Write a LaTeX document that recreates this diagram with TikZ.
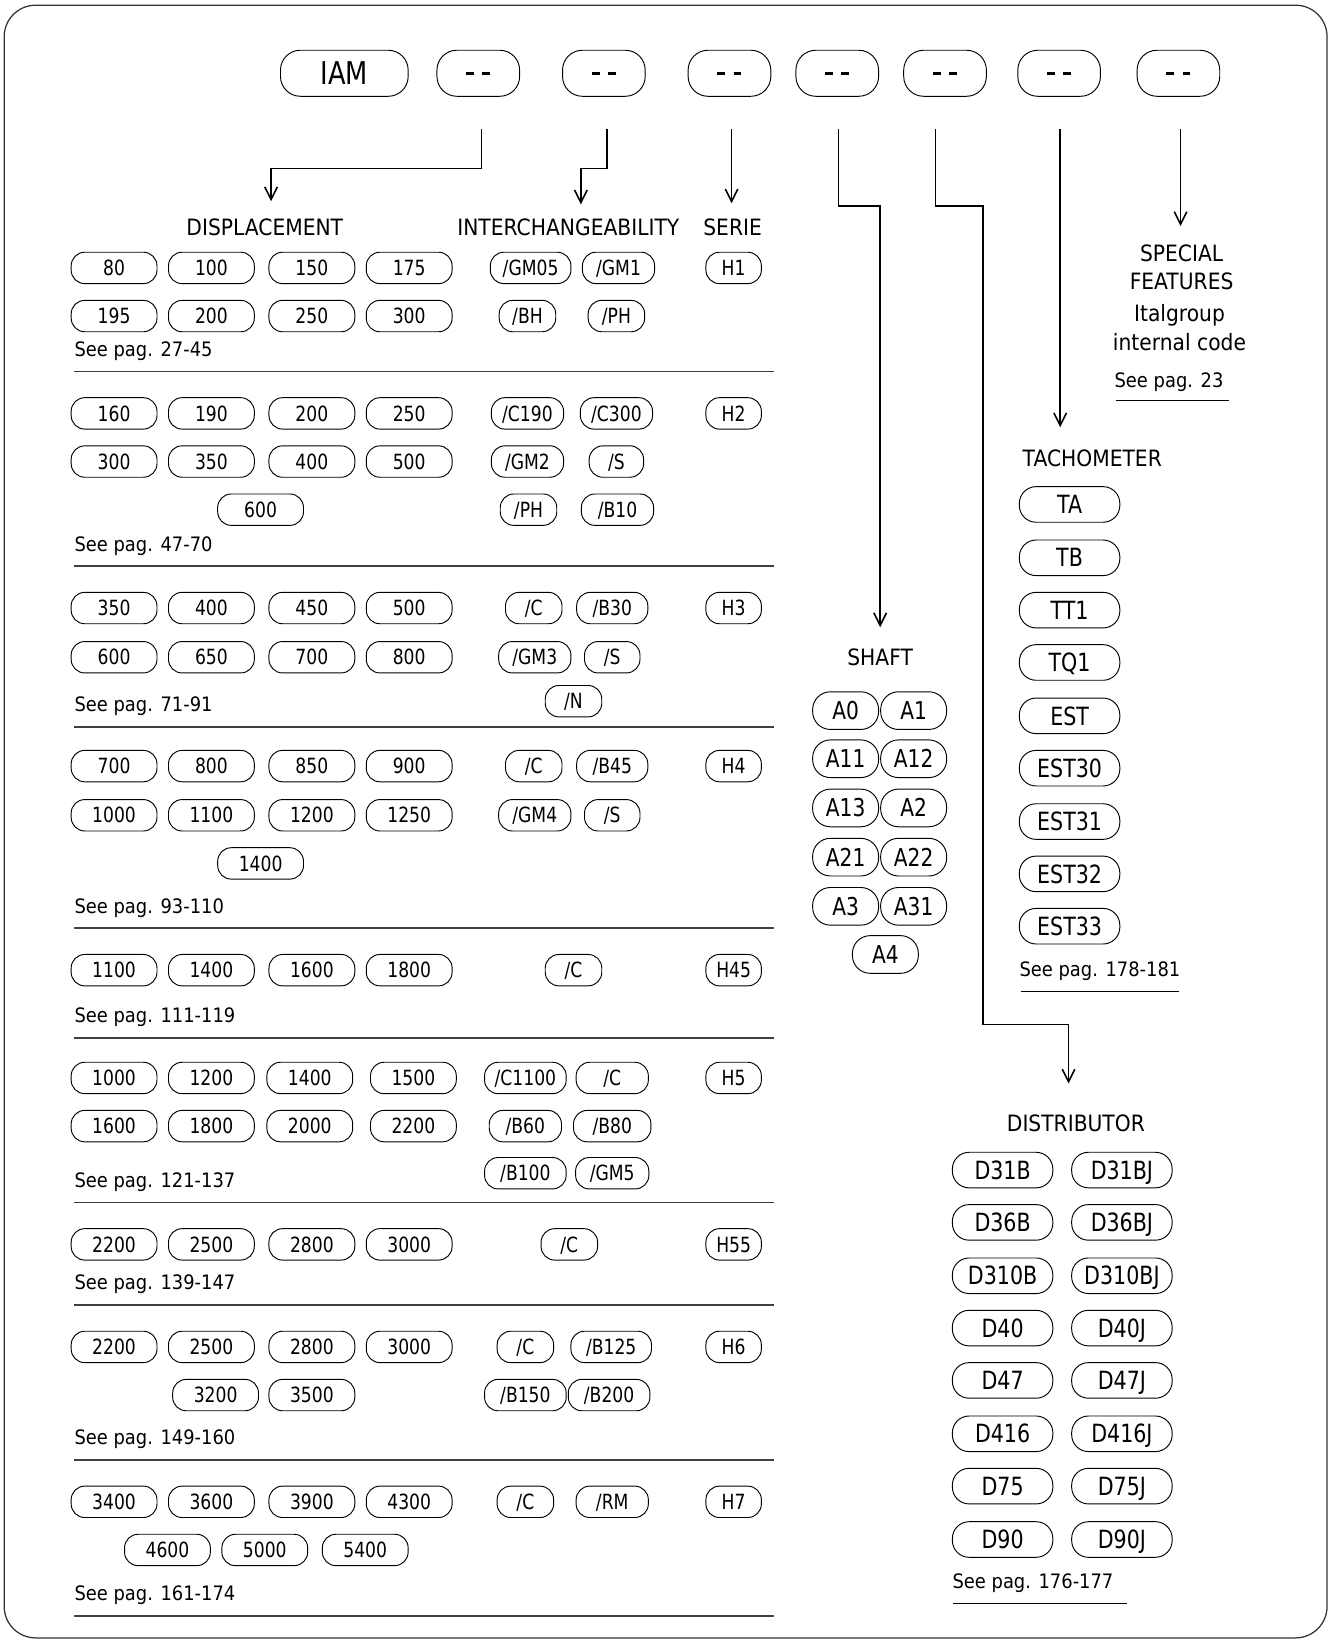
\documentclass[tikz,border=0pt]{standalone}
\usepackage{fontspec}
\setmainfont{DejaVu Sans}[FakeStretch=0.9]
\newfontfamily\narrowfont{DejaVu Sans}[FakeStretch=0.82]
\usetikzlibrary{arrows.meta,calc}
\newcommand\dispRow[6]{%
 \node[dpill] (#2a) at (109,#1) {#3};
 \node[dpill] (#2b) at (202,#1) {#4};
 \node[dpill] (#2c) at (298,#1) {#5};
 \node[dpill] (#2d) at (391,#1) {#6};}
\newcommand\pil[5]{\node[pill,minimum width=#4] (#1) at (#2,#3) {#5};}
\newcommand\rpil[4]{\node[rpill] (#1) at (#2,#3) {#4};}
\newcommand\spil[4]{\node[spill] (#1) at (#2,#3) {#4};}
\newcommand\dashes{\rule{7.5pt}{2.6pt}\hspace{8pt}\rule{7.5pt}{2.6pt}}
\begin{document}
\begin{tikzpicture}[x=1pt,y=-1pt,
 pill/.style={draw, line width=0.9pt, rounded corners=13, minimum height=30, inner sep=0, text height=14.6pt, text depth=0pt, font=\narrowfont\fontsize{20}{20}\selectfont},
 dpill/.style={pill, minimum width=82},
 toppill/.style={draw, line width=0.9pt, rounded corners=19, minimum height=44, minimum width=79, inner sep=0, font=\narrowfont\fontsize{22}{22}\selectfont},
 rpill/.style={draw, line width=0.9pt, rounded corners=16, minimum height=34, minimum width=96, inner sep=0, text height=17.5pt, text depth=0pt, font=\narrowfont\fontsize{24}{24}\selectfont},
 spill/.style={draw, line width=0.9pt, rounded corners=17, minimum height=36, minimum width=63, inner sep=0, text height=17.1pt, text depth=0pt, font=\narrowfont\fontsize{23.5}{23.5}\selectfont},
 head/.style={inner sep=2pt, font=\fontsize{21.5}{27}\selectfont, align=center},
 see/.style={anchor=west, inner sep=0, font=\fontsize{19}{19}\selectfont},
 conn/.style={line width=1.5pt, -{Straight Barb[length=12pt, width=12pt]}},
 sepline/.style={line width=1.8pt, black!75},
 uline/.style={line width=1pt, black},
]
\useasboundingbox (0,0) rectangle (1271,1568);
\draw[line width=1.2pt, black!80, rounded corners=30] (4,5) rectangle (1268,1565);

% top row
\node[toppill, minimum width=122, text height=21.9pt, text depth=0pt, font=\narrowfont\fontsize{30}{30}\selectfont] (iam) at (329,70) {IAM};
\node[toppill] (t2) at (457,70) {\dashes};
\node[toppill] (t3) at (577,70) {\dashes};
\node[toppill] (t4) at (697,70) {\dashes};
\node[toppill] (t5) at (800,70) {\dashes};
\node[toppill] (t6) at (903,70) {\dashes};
\node[toppill] (t7) at (1012,70) {\dashes};
\node[toppill] (t8) at (1126,70) {\dashes};

% headings
\node[head] (disp) at (253,217) {DISPLACEMENT};
\node[head] (inter) at (543,217) {INTERCHANGEABILITY};
\node[head] (serie) at (700,217) {SERIE};
\node[head] (shaft) at (841,628) {SHAFT};
\node[head, anchor=west] (tach) at (975,438) {TACHOMETER};
\node[head] (dist) at (1028,1073) {DISTRIBUTOR};
\node[head, anchor=north] (spec) at (1129,231.5) {SPECIAL\\FEATURES};
\node[head, anchor=north] (ital) at (1127,289) {Italgroup\\internal code};
\node[see, anchor=center] (see23) at (1117,365) {See pag. 23};
\draw[uline] (1066,383) -- (1174,383);

% connectors
\coordinate (c2) at (460,123);
\coordinate (c3) at (580,123);
\coordinate (c4) at (699,123);
\coordinate (c5) at (801,123);
\coordinate (c6) at (894,123);
\coordinate (c7) at (1013,123);
\coordinate (c8) at (1128,123);
\draw[conn, shorten >=14.4pt] (c2) -- ++(0,38) -| ([xshift=6pt]disp.north);
\draw[conn, shorten >=11.4pt] (c3) -- ++(0,38) -| ([xshift=12pt]inter.north);
\draw[conn, shorten >=12.4pt] (c4) -- (c4 |- serie.north);
\draw[conn, shorten >=18.4pt] (c5) -- ++(0,74) -| (shaft.north);
\draw[conn, shorten >=27.4pt] (c6) -- ++(0,74) -- ++(45,0) -- ++(0,782) -| ([xshift=-7pt]dist.north);
\draw[conn, shorten >=19.4pt] (c7) -- (c7 |- tach.north);
\draw[conn, shorten >=15.5pt] (c8) -- (c8 |- spec.north);

% ---- section 1
\dispRow{256}{sa}{80}{100}{150}{175}
\dispRow{302}{sb}{195}{200}{250}{300}
\pil{i1a}{507}{256}{77}{/GM05}
\pil{i1b}{591}{256}{69}{/GM1}
\pil{i1c}{504}{302}{54}{/BH}
\pil{i1d}{589}{302}{54}{/PH}
\pil{h1}{701}{256}{53}{H1}
\node[see] (p1) at (71,336) {See pag. 27-45};
\draw[sepline] (71,355) -- (740,355);

% ---- section 2
\dispRow{395}{sc}{160}{190}{200}{250}
\dispRow{441}{sd}{300}{350}{400}{500}
\node[dpill] (se) at (249,487) {600};
\pil{i2a}{504}{395}{69}{/C190}
\pil{i2b}{589}{395}{69}{/C300}
\pil{i2c}{504}{441}{69}{/GM2}
\pil{i2d}{589}{441}{52}{/S}
\pil{i2e}{505}{487}{54}{/PH}
\pil{i2f}{590}{487}{69}{/B10}
\pil{h2}{701}{395}{53}{H2}
\node[see] (p2) at (71,522) {See pag. 47-70};
\draw[sepline] (71,541) -- (740,541);

% ---- section 3
\dispRow{581}{sf}{350}{400}{450}{500}
\dispRow{628}{sg}{600}{650}{700}{800}
\pil{i3a}{510}{581}{54}{/C}
\pil{i3b}{585}{581}{68}{/B30}
\pil{i3c}{511}{628}{69}{/GM3}
\pil{i3d}{585}{628}{53}{/S}
\pil{i3e}{548}{670}{54}{/N}
\pil{h3}{701}{581}{53}{H3}
\node[see] (p3) at (71,675) {See pag. 71-91};
\draw[sepline] (71,695) -- (740,695);

% ---- section 4
\dispRow{732}{sh}{700}{800}{850}{900}
\dispRow{779}{si}{1000}{1100}{1200}{1250}
\node[dpill] (sj) at (249,825) {1400};
\pil{i4a}{510}{732}{54}{/C}
\pil{i4b}{585}{732}{68}{/B45}
\pil{i4c}{511}{779}{69}{/GM4}
\pil{i4d}{585}{779}{53}{/S}
\pil{h4}{701}{732}{53}{H4}
\node[see] (p4) at (71,868) {See pag. 93-110};
\draw[sepline] (71,887) -- (740,887);

% ---- section 5
\dispRow{927}{sk}{1100}{1400}{1600}{1800}
\pil{i5a}{548}{927}{54}{/C}
\pil{h45}{701}{927}{53}{H45}
\node[see] (p5) at (71,972) {See pag. 111-119};
\draw[sepline] (71,992) -- (740,992);

% ---- section 6
\node[dpill] (sla) at (109,1030) {1000};
\node[dpill] (slb) at (202,1030) {1200};
\node[dpill] (slc) at (296,1030) {1400};
\node[dpill] (sld) at (395,1030) {1500};
\node[dpill] (sma) at (109,1076) {1600};
\node[dpill] (smb) at (202,1076) {1800};
\node[dpill] (smc) at (296,1076) {2000};
\node[dpill] (smd) at (395,1076) {2200};
\pil{i6a}{502}{1030}{78}{/C1100}
\pil{i6b}{585}{1030}{69}{/C}
\pil{i6c}{502}{1076}{69}{/B60}
\pil{i6d}{585}{1076}{74}{/B80}
\pil{i6e}{502}{1121}{78}{/B100}
\pil{i6f}{585}{1121}{70}{/GM5}
\pil{h5}{701}{1030}{53}{H5}
\node[see] (p6) at (71,1130) {See pag. 121-137};
\draw[sepline] (71,1149) -- (740,1149);

% ---- section 7
\dispRow{1189}{sn}{2200}{2500}{2800}{3000}
\pil{i7a}{544}{1189}{54}{/C}
\pil{h55}{701}{1189}{53}{H55}
\node[see] (p7) at (71,1227) {See pag. 139-147};
\draw[sepline] (71,1247) -- (740,1247);

% ---- section 8
\dispRow{1287}{so}{2200}{2500}{2800}{3000}
\node[dpill] (spa) at (206,1333) {3200};
\node[dpill] (spb) at (298,1333) {3500};
\pil{i8a}{502}{1287}{54}{/C}
\pil{i8b}{584}{1287}{77}{/B125}
\pil{i8c}{502}{1333}{78}{/B150}
\pil{i8d}{582}{1333}{78}{/B200}
\pil{h6}{701}{1287}{53}{H6}
\node[see] (p8) at (71,1375) {See pag. 149-160};
\draw[sepline] (71,1395) -- (740,1395);

% ---- section 9
\dispRow{1435}{sq}{3400}{3600}{3900}{4300}
\node[dpill] (sra) at (160,1481) {4600};
\node[dpill] (srb) at (253,1481) {5000};
\node[dpill] (src) at (349,1481) {5400};
\pil{i9a}{502}{1435}{54}{/C}
\pil{i9b}{585}{1435}{69}{/RM}
\pil{h7}{701}{1435}{53}{H7}
\node[see] (p9) at (71,1524) {See pag. 161-174};
\draw[sepline] (71,1544) -- (740,1544);

% ---- shaft
\spil{a0}{808}{679}{A0}
\spil{a1}{873}{679}{A1}
\spil{a11}{808}{725}{A11}
\spil{a12}{873}{725}{A12}
\spil{a13}{808}{772}{A13}
\spil{a2}{873}{772}{A2}
\spil{a21}{808}{819}{A21}
\spil{a22}{873}{819}{A22}
\spil{a3}{808}{866}{A3}
\spil{a31}{873}{866}{A31}
\spil{a4}{846}{912}{A4}

% ---- tachometer
\rpil{ta}{1022}{482}{TA}
\rpil{tb}{1022}{533}{TB}
\rpil{tt1}{1022}{583}{TT1}
\rpil{tq1}{1022}{633}{TQ1}
\rpil{est}{1022}{684}{EST}
\rpil{est30}{1022}{734}{EST30}
\rpil{est31}{1022}{785}{EST31}
\rpil{est32}{1022}{835}{EST32}
\rpil{est33}{1022}{885}{EST33}
\node[see] (ptach) at (974,928) {See pag. 178-181};
\draw[uline] (976,947) -- (1127,947);

% ---- distributor
\rpil{d31b}{958}{1118}{D31B}
\rpil{d31bj}{1072}{1118}{D31BJ}
\rpil{d36b}{958}{1168}{D36B}
\rpil{d36bj}{1072}{1168}{D36BJ}
\rpil{d310b}{958}{1219}{D310B}
\rpil{d310bj}{1072}{1219}{D310BJ}
\rpil{d40}{958}{1269}{D40}
\rpil{d40j}{1072}{1269}{D40J}
\rpil{d47}{958}{1319}{D47}
\rpil{d47j}{1072}{1319}{D47J}
\rpil{d416}{958}{1370}{D416}
\rpil{d416j}{1072}{1370}{D416J}
\rpil{d75}{958}{1420}{D75}
\rpil{d75j}{1072}{1420}{D75J}
\rpil{d90}{958}{1471}{D90}
\rpil{d90j}{1072}{1471}{D90J}
\node[see] (pdist) at (910,1513) {See pag. 176-177};
\draw[uline] (911,1532) -- (1077,1532);
\end{tikzpicture}
\end{document}
